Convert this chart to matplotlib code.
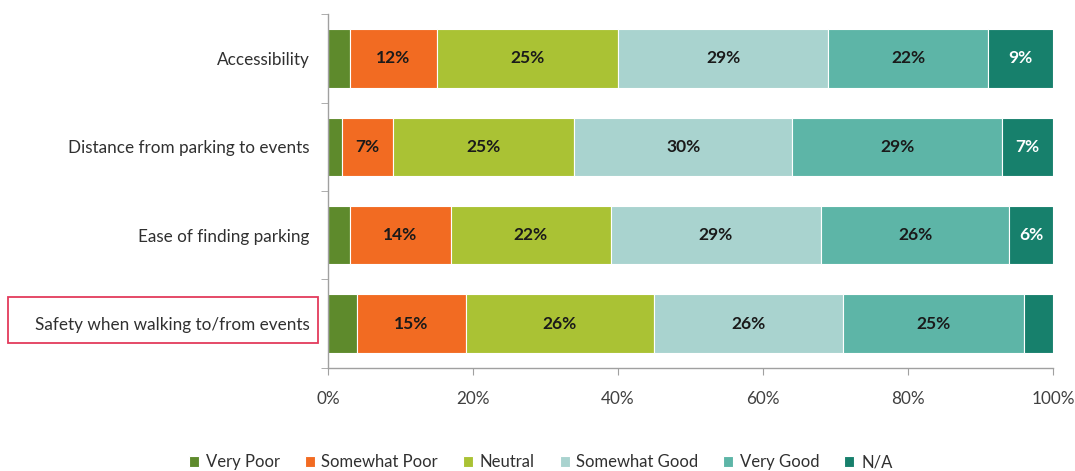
import numpy as np
import matplotlib
matplotlib.use("Agg")
import matplotlib.pyplot as plt
from matplotlib.patches import Rectangle

plt.rcParams['font.family'] = ['Lato', 'DejaVu Sans']

categories = ["Accessibility", "Distance from parking to events",
              "Ease of finding parking", "Safety when walking to/from events"]
responses = ["Very Poor", "Somewhat Poor", "Neutral", "Somewhat Good", "Very Good", "N/A"]
very_poor = [3, 2, 3, 4]
somewhat_poor = [12, 7, 14, 15]
neutral = [25, 25, 22, 26]
somewhat_good = [29, 30, 29, 26]
very_good = [22, 29, 26, 25]
not_applicable = [9, 7, 6, 4]

series = [very_poor, somewhat_poor, neutral, somewhat_good, very_good, not_applicable]
colors = ["#5E8A2C", "#F26B22", "#AAC234", "#A9D3CF", "#5DB5A7", "#17806C"]
text_colors = ["#1a1a1a"] * 5 + ["white"]

fig = plt.figure(figsize=(10.75, 4.71), dpi=100)
ax = fig.add_axes([0.305, 0.219, 0.6745, 0.751])

y = np.arange(len(categories))
left = np.zeros(len(categories))
for vals, name, col, tcol in zip(series, responses, colors, text_colors):
    vals = np.array(vals, dtype=float)
    bars = ax.barh(y, vals, left=left, height=0.66, color=col,
                   edgecolor="white", linewidth=0.8, label=name)
    for b, v in zip(bars, vals):
        if v >= 5:
            ax.text(b.get_x() + b.get_width() / 2, b.get_y() + b.get_height() / 2,
                    f"{int(v)}%", ha="center", va="center", fontsize=12.5,
                    fontweight="bold", color=tcol)
    left += vals

ax.set_xlim(0, 100)
ax.set_ylim(len(categories) - 0.5, -0.5)
ax.set_xticks(np.arange(0, 101, 20))
ax.set_xticklabels([f"{t}%" for t in range(0, 101, 20)])
ax.set_yticks(y)
ax.set_yticklabels(categories)
ax.set_yticks(np.arange(-0.5, len(categories), 1), minor=True)

for s in ["top", "right"]:
    ax.spines[s].set_visible(False)
for s in ["left", "bottom"]:
    ax.spines[s].set_color("#a0a0a0")
    ax.spines[s].set_linewidth(1.0)

ax.tick_params(axis="y", which="major", length=0, pad=13, labelsize=12.3, labelcolor="#303030")
ax.tick_params(axis="y", which="minor", length=5, color="#a0a0a0")
ax.tick_params(axis="x", length=5, color="#a0a0a0", pad=12, labelsize=12.3, labelcolor="#404040")

# highlight box around the last category label
fig.add_artist(Rectangle((0.0074, 0.2718), 0.288, 0.0977, transform=fig.transFigure,
                         fill=False, edgecolor="#E33A5C", linewidth=1.3))

fig.legend(loc="lower center", bbox_to_anchor=(0.503, -0.03), ncol=6, frameon=False,
           fontsize=12, handlelength=0.6, handleheight=0.6, handletextpad=0.4,
           columnspacing=1.5, labelcolor="#303030")

fig.savefig("out.png", dpi=100)
